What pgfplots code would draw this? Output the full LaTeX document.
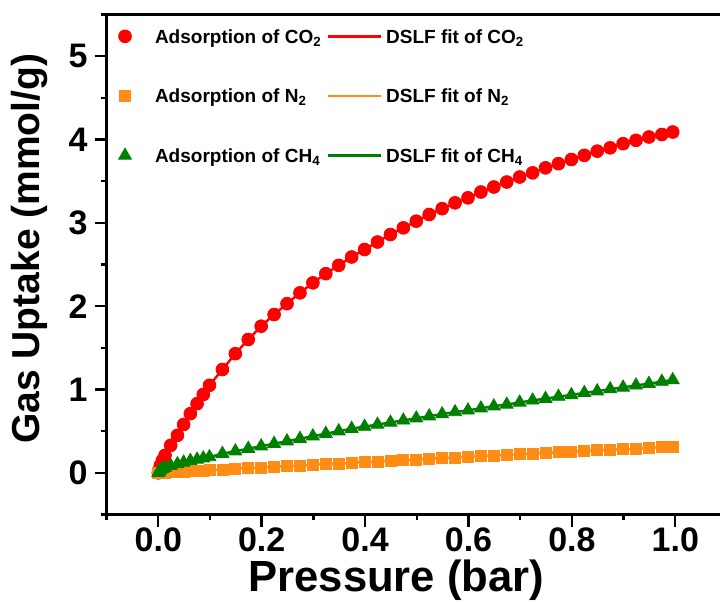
\documentclass[border=0pt]{standalone}
\usepackage{fontspec}
\setmainfont{Liberation Sans}
\usepackage{pgfplots}
\usepackage{pgfplotstable}
\pgfplotsset{compat=1.18}
\definecolor{cred}{RGB}{255,0,0}
\definecolor{corange}{RGB}{255,140,20}
\definecolor{cgreen}{RGB}{0,128,0}
\pgfplotstableread{
x co2 ch4 n2
0 0 0 0
0.001 0.03 0.01 0.000
0.004 0.09 0.03 0.001
0.008 0.15 0.045 0.003
0.013 0.21 0.06 0.004
0.024 0.33 0.085 0.008
0.037 0.45 0.105 0.012
0.049 0.58 0.125 0.016
0.062 0.71 0.145 0.020
0.075 0.83 0.16 0.025
0.087 0.94 0.175 0.029
0.099 1.05 0.19 0.033
0.124 1.24 0.23 0.041
0.149 1.43 0.26 0.049
0.174 1.60 0.29 0.057
0.199 1.76 0.32 0.065
0.224 1.90 0.35 0.073
0.249 2.03 0.38 0.081
0.274 2.16 0.41 0.089
0.299 2.28 0.44 0.097
0.324 2.39 0.47 0.105
0.349 2.49 0.50 0.113
0.374 2.59 0.53 0.121
0.399 2.68 0.555 0.129
0.424 2.77 0.58 0.137
0.449 2.86 0.605 0.145
0.474 2.94 0.63 0.153
0.499 3.02 0.655 0.161
0.524 3.10 0.68 0.169
0.549 3.17 0.705 0.177
0.574 3.24 0.73 0.185
0.599 3.30 0.75 0.193
0.624 3.37 0.775 0.200
0.649 3.43 0.80 0.208
0.674 3.49 0.82 0.216
0.699 3.55 0.845 0.224
0.724 3.60 0.87 0.231
0.749 3.66 0.89 0.239
0.774 3.71 0.915 0.247
0.799 3.76 0.935 0.254
0.824 3.81 0.96 0.262
0.849 3.86 0.98 0.270
0.874 3.90 1.005 0.277
0.899 3.95 1.025 0.285
0.924 3.99 1.05 0.292
0.949 4.03 1.07 0.300
0.974 4.06 1.095 0.307
0.995 4.09 1.115 0.313
}\data
\pgfplotsset{
  markimg/.style={legend image code/.code={\path[draw=none,fill=none,use as bounding box] (0pt,-3.4pt) rectangle (23.5pt,3.4pt); \draw[##1] plot coordinates {(8.5pt,0pt)};}},
  lineimg/.style={legend image code/.code={\path[draw=none,fill=none,use as bounding box] (0pt,-3.4pt) rectangle (32.2pt,3.4pt); \draw[##1,line width=1.4pt] (3pt,0pt) -- (29.7pt,0pt);}},
}
\begin{document}
\begin{tikzpicture}
\begin{axis}[
  scale only axis, width=310.2pt, height=250pt,
  xmin=-0.1, xmax=1.1, ymin=-0.5, ymax=5.5,
  xtick={0,0.2,0.4,0.6,0.8,1.0}, ytick={0,1,2,3,4,5},
  minor xtick={-0.1,0.1,0.3,0.5,0.7,0.9,1.1},
  minor ytick={-0.5,0.5,1.5,2.5,3.5,4.5,5.5},
  xtick pos=left, ytick pos=left, tick align=outside,
  major tick length=6pt, minor tick length=2.8pt,
  every tick/.style={black, line width=1.2pt},
  axis line style={line width=1.6pt},
  tick label style={font=\fontsize{17}{20}\selectfont\bfseries},
  /pgf/number format/assume math mode=true,
  xticklabel style={yshift=3pt, /pgf/number format/.cd, fixed, fixed zerofill, precision=1},
  xlabel={Pressure (bar)}, ylabel={Gas Uptake (mmol/g)},
  xlabel style={font=\fontsize{21.8}{25}\selectfont\bfseries, at={(axis description cs:0.467,-0.155)}, anchor=base},
  ylabel style={font=\fontsize{19.5}{23}\selectfont\bfseries, at={(axis description cs:-0.1074,0.5316)}, anchor=base},
  legend columns=2,
  legend cell align=left,
  legend style={at={(axis description cs:0.0023,0.970)}, anchor=north west, draw=none, fill=none,
    inner sep=0pt, outer sep=0pt, font=\fontsize{9.5}{11}\selectfont\bfseries,
    nodes={inner sep=0pt, text height=6.8pt, text depth=0pt}, row sep=23.0pt, column sep=0pt},
]
\addplot[only marks, mark=*, mark size=3.2pt, color=cred, markimg] table[x=x,y=co2]{\data};
\addlegendentry{Adsorption of CO\textsubscript{2}}
\addplot[no marks, color=cred, line width=1.2pt, lineimg] table[x=x,y=co2]{\data};
\addlegendentry{DSLF fit of CO\textsubscript{2}}
\addplot[only marks, mark=square*, mark size=2.75pt, color=corange, markimg] table[x=x,y=n2]{\data};
\addlegendentry{Adsorption of N\textsubscript{2}}
\addplot[no marks, color=corange, line width=1.2pt, lineimg] table[x=x,y=n2]{\data};
\addlegendentry{DSLF fit of N\textsubscript{2}}
\addplot[only marks, mark=triangle*, mark size=3.7pt, color=cgreen, markimg] table[x=x,y=ch4]{\data};
\addlegendentry{Adsorption of CH\textsubscript{4}}
\addplot[no marks, color=cgreen, line width=1.2pt, lineimg] table[x=x,y=ch4]{\data};
\addlegendentry{DSLF fit of CH\textsubscript{4}}
\end{axis}
\pgfresetboundingbox
\path[use as bounding box] ([xshift=-53.3pt,yshift=-43.75pt]current axis.south west) rectangle ([xshift=306.7pt,yshift=257.25pt]current axis.south west);
\end{tikzpicture}
\end{document}
